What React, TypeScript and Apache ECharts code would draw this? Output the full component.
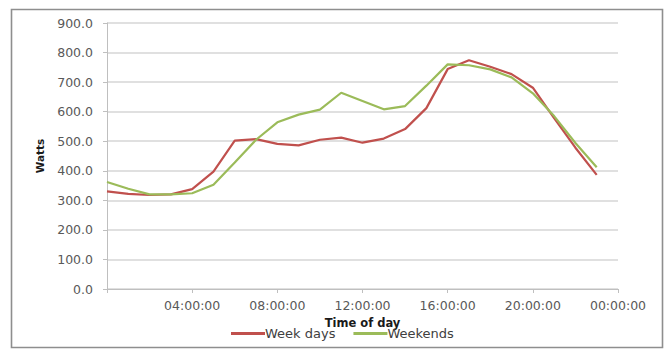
import React, { useEffect, useRef } from "react";
import * as echarts from "echarts";

// Hour of day for each reading (0 = midnight)
const hours = [0, 1, 2, 3, 4, 5, 6, 7, 8, 9, 10, 11, 12, 13, 14, 15, 16, 17, 18, 19, 20, 21, 22, 23];

// Average household load, watts
const weekDays = [330, 322, 318, 320, 338, 397, 502, 507, 491, 486, 505, 512, 495, 509, 541, 612, 744, 774, 752, 727, 681, 578, 478, 386];
const weekends = [362, 339, 320, 320, 324, 353, 428, 505, 564, 590, 607, 664, 636, 608, 619, 688, 760, 757, 743, 716, 662, 585, 494, 412];

const seriesNames = ["Week days", "Weekends"];
const seriesColors = ["#c0504d", "#9bbb59"];

const FONT = "DejaVu Sans";

const pad2 = (n: number) => (n < 10 ? "0" + n : String(n));

export default function App() {
  const ref = useRef<HTMLDivElement>(null);

  useEffect(() => {
    if (!ref.current) return;
    const chart = echarts.init(ref.current, null, { renderer: "svg" });
    const pairs = (vals: number[]) => hours.map((h, i) => [h, vals[i]]);

    chart.setOption({
      animation: false,
      backgroundColor: "#ffffff",
      textStyle: { fontFamily: FONT },
      grid: { left: 107, right: 48, top: 23, bottom: 60, containLabel: false },
      graphic: [
        {
          type: "rect",
          shape: { x: 11.5, y: 9.5, width: 651, height: 338 },
          style: { fill: "none", stroke: "#8e8e8e", lineWidth: 1.6 },
          silent: true,
        },
      ],
      legend: {
        data: seriesNames,
        left: 226,
        top: 322,
        itemWidth: 34,
        itemHeight: 3,
        itemGap: 18,
        icon: "rect",
        textStyle: { fontFamily: FONT, fontSize: 13, color: "#404040", padding: [0, 0, 0, -5] },
      },
      xAxis: {
        type: "value",
        min: 0,
        max: 24,
        interval: 4,
        name: "Time of day",
        nameLocation: "middle",
        nameGap: 20,
        nameTextStyle: { fontFamily: FONT, fontSize: 11.5, fontWeight: "bold", color: "#1a1a1a" },
        axisLine: { show: true, lineStyle: { color: "#bfbfbf", width: 1 } },
        axisTick: { show: true, length: 4, lineStyle: { color: "#bfbfbf" } },
        splitLine: { show: false },
        axisLabel: {
          margin: 10,
          fontFamily: FONT,
          fontSize: 12.5,
          color: "#595959",
          formatter: (v: number) => (v === 0 ? "" : pad2(v % 24) + ":00:00"),
        },
      },
      yAxis: {
        type: "value",
        min: 0,
        max: 900,
        interval: 100,
        name: "Watts",
        nameLocation: "middle",
        nameGap: 62,
        nameRotate: 90,
        nameTextStyle: { fontFamily: FONT, fontSize: 10.5, fontWeight: "bold", color: "#1a1a1a" },
        axisLine: { show: true, lineStyle: { color: "#bfbfbf", width: 1 } },
        axisTick: { show: true, length: 4, lineStyle: { color: "#bfbfbf" } },
        splitLine: { show: true, lineStyle: { color: "#d6d6d6", width: 1.5 } },
        axisLabel: {
          margin: 14,
          fontFamily: FONT,
          fontSize: 12.5,
          color: "#595959",
          formatter: (v: number) => v.toFixed(1),
        },
      },
      series: [
        {
          name: seriesNames[0],
          type: "line",
          data: pairs(weekDays),
          showSymbol: false,
          symbol: "none",
          lineStyle: { color: seriesColors[0], width: 2.2 },
          itemStyle: { color: seriesColors[0] },
        },
        {
          name: seriesNames[1],
          type: "line",
          data: pairs(weekends),
          showSymbol: false,
          symbol: "none",
          lineStyle: { color: seriesColors[1], width: 2.2 },
          itemStyle: { color: seriesColors[1] },
        },
      ],
    });

    return () => chart.dispose();
  }, []);

  return (
    <div
      ref={ref}
      style={{ position: "fixed", left: 0, top: 0, width: 666, height: 349, background: "#fff" }}
    />
  );
}
